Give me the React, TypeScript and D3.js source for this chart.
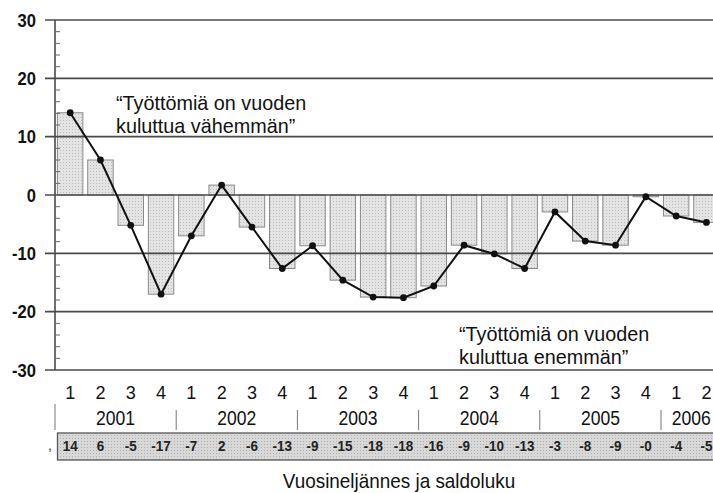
import React from "react";
import * as d3 from "d3";

const quarters = ["1","2","3","4","1","2","3","4","1","2","3","4","1","2","3","4","1","2","3","4","1","2"];
const years = ["2001","2002","2003","2004","2005","2006"];
const yearCounts = [4,4,4,4,4,2];
const values = [14.1, 6.0, -5.2, -17.0, -7.0, 1.7, -5.5, -12.6, -8.7, -14.6, -17.5, -17.6, -15.6, -8.6, -10.1, -12.6, -2.9, -7.9, -8.6, -0.3, -3.6, -4.7];
const tableLabels = ["14","6","-5","-17","-7","2","-6","-13","-9","-15","-18","-18","-16","-9","-10","-13","-3","-8","-9","-0","-4","-5"];
const yTicks = [30,20,10,0,-10,-20,-30];
const annotationTop = ["\u201CTyöttömiä on vuoden", "kuluttua vähemmän\u201D"];
const annotationBottom = ["\u201CTyöttömiä on vuoden", "kuluttua enemmän\u201D"];
const axisTitle = "Vuosineljännes ja saldoluku";

const W = 713, H = 493;
const font = "'Liberation Sans', Arial, sans-serif";

function NText(props: { x: number; y: number; sx: number; size: number; anchor?: string; weight?: string; fill?: string; children: React.ReactNode }) {
  const { x, y, sx, size, anchor = "middle", weight = "normal", fill = "#111", children } = props;
  return (
    <text transform={`translate(${x},${y}) scale(${sx},1)`} textAnchor={anchor} fontFamily={font}
      fontSize={size} fontWeight={weight} fill={fill}>{children}</text>
  );
}

export default function App() {
  const idx = values.map((_, i) => i);
  const x = d3.scaleBand<number>().domain(idx).range([55, 55 + 22 * 30.3]).paddingInner(0.16).paddingOuter(0.08);
  const y = d3.scaleLinear().domain([-30, 30]).range([370, 20]);
  const cx = (i: number) => (x(i) as number) + x.bandwidth() / 2;
  const line = d3.line<number>().x((_, i) => cx(i)).y(d => y(d));
  const minor = d3.range(-30, 31, 2).filter(v => v % 10 !== 0);
  const gridCol = "#4a4a4a";
  let acc = 0;
  const yearBlocks = years.map((yr, k) => {
    const start = acc;
    acc += yearCounts[k];
    return { yr, start, end: acc - 1 };
  });
  const step = x.step();
  const bandLeft = (i: number) => 55 + i * step;

  return (
    <svg width={W} height={H} style={{ position: "absolute", left: 0, top: 0, background: "#fff" }}>
      <defs>
        <pattern id="dots" width="3" height="3" patternUnits="userSpaceOnUse">
          <rect width="3" height="3" fill="#e4e4e4" />
          <rect width="1" height="1" fill="#bdbdbd" />
        </pattern>
        <pattern id="dots2" width="3" height="3" patternUnits="userSpaceOnUse">
          <rect width="3" height="3" fill="#d8d8d8" />
          <rect width="1" height="1" fill="#b0b0b0" />
        </pattern>
      </defs>
      {values.map((v, i) => (
        <rect key={"b" + i} x={x(i)} y={y(Math.max(0, v))} width={x.bandwidth()}
          height={Math.abs(y(v) - y(0))} fill="url(#dots)" stroke="#8a8a8a" strokeWidth={1} />
      ))}
      {yTicks.map(t => (
        <line key={"g" + t} x1={45} x2={W} y1={y(t)} y2={y(t)} stroke={gridCol} strokeWidth={1.6} />
      ))}
      <line x1={55} x2={55} y1={y(30)} y2={y(-30)} stroke={gridCol} strokeWidth={1.6} />
      {minor.map(t => (
        <line key={"m" + t} x1={55} x2={60} y1={y(t)} y2={y(t)} stroke="#666" strokeWidth={1} />
      ))}
      {yTicks.map(t => (
        <NText key={"yl" + t} x={36} y={y(t) + 6.5} sx={0.92} size={18} anchor="end" weight="bold">{t}</NText>
      ))}
      <path d={line(values) || ""} fill="none" stroke="#111" strokeWidth={2} />
      {values.map((v, i) => (
        <circle key={"c" + i} cx={cx(i)} cy={y(v)} r={3.4} fill="#111" />
      ))}
      {annotationTop.map((s, k) => (
        <text key={"at" + k} x={116} y={110 + k * 23} fontFamily={font} fontSize={19.8} fill="#111">{s}</text>
      ))}
      {annotationBottom.map((s, k) => (
        <text key={"ab" + k} x={459} y={341 + k * 23} fontFamily={font} fontSize={19.8} fill="#111">{s}</text>
      ))}
      {quarters.map((q, i) => (
        <NText key={"q" + i} x={cx(i)} y={399} sx={0.95} size={19}>{q}</NText>
      ))}
      {yearBlocks.map((b, k) => (
        <g key={"y" + k}>
          <line x1={bandLeft(b.start)} x2={bandLeft(b.start)} y1={k === 0 ? 404 : 410} y2={430} stroke="#777" strokeWidth={1} />
          <NText x={(cx(b.start) + cx(b.end)) / 2} y={425} sx={0.9} size={19.5}>{b.yr}</NText>
        </g>
      ))}
      <rect x={57.5} y={433} width={W} height={27} fill="url(#dots2)" stroke="#555" strokeWidth={1.3} />
      <text x={48} y={450} fontFamily={font} fontSize={14} fill="#333">,</text>
      {tableLabels.map((s, i) => (
        <NText key={"t" + i} x={cx(i)} y={451} sx={0.9} size={15} weight="bold" fill="#222">{s}</NText>
      ))}
      <NText x={399} y={488} sx={0.9} size={21}>{axisTitle}</NText>
    </svg>
  );
}
